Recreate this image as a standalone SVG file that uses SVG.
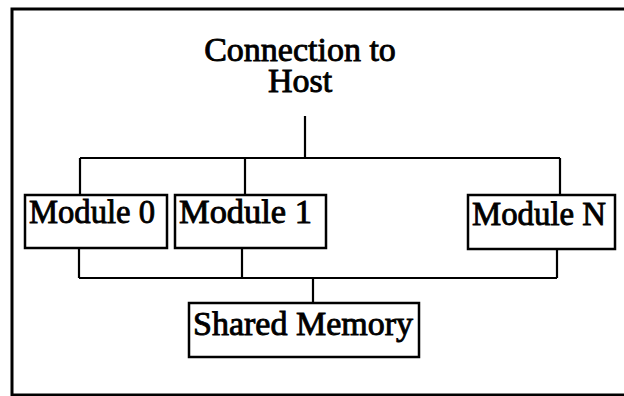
<svg xmlns="http://www.w3.org/2000/svg" width="624" height="396" viewBox="0 0 624 396">
<style>
.frame{fill:none;stroke:#000;stroke-width:3}
.box{fill:#fff;stroke:#000;stroke-width:2.5}
.wire{fill:none;stroke:#000;stroke-width:2.2}
text{font-family:"Liberation Serif","Times New Roman",serif;font-size:34px;fill:#000;stroke:#000;stroke-width:0.9}
</style>
<rect width="624" height="396" fill="#fff"/>
<rect class="frame" x="12" y="9" width="630" height="386"/>
<g id="host">
<text text-anchor="middle"><tspan x="300" y="61">Connection to</tspan><tspan x="300" y="92">Host</tspan></text>
</g>
<g id="connectors">
<path class="wire" d="M305 116V158M80 158H560M80 158V195M245 158V195M560 158V195"/>
<path class="wire" d="M79 248V278M242 248V278M557 249V278M79 278H557M313 278V303"/>
</g>
<g id="module0">
<rect class="box" x="25" y="195" width="142" height="53"/>
<text x="29" y="223" textLength="126" lengthAdjust="spacingAndGlyphs">Module 0</text>
</g>
<g id="module1">
<rect class="box" x="175" y="195" width="151" height="53"/>
<text x="179" y="223" textLength="133" lengthAdjust="spacingAndGlyphs">Module 1</text>
</g>
<g id="moduleN">
<rect class="box" x="468" y="195" width="147" height="54"/>
<text x="472" y="225" textLength="134" lengthAdjust="spacingAndGlyphs">Module N</text>
</g>
<g id="shared">
<rect class="box" x="189" y="303" width="230" height="54"/>
<text x="193" y="335" textLength="220" lengthAdjust="spacingAndGlyphs">Shared Memory</text>
</g>
</svg>
